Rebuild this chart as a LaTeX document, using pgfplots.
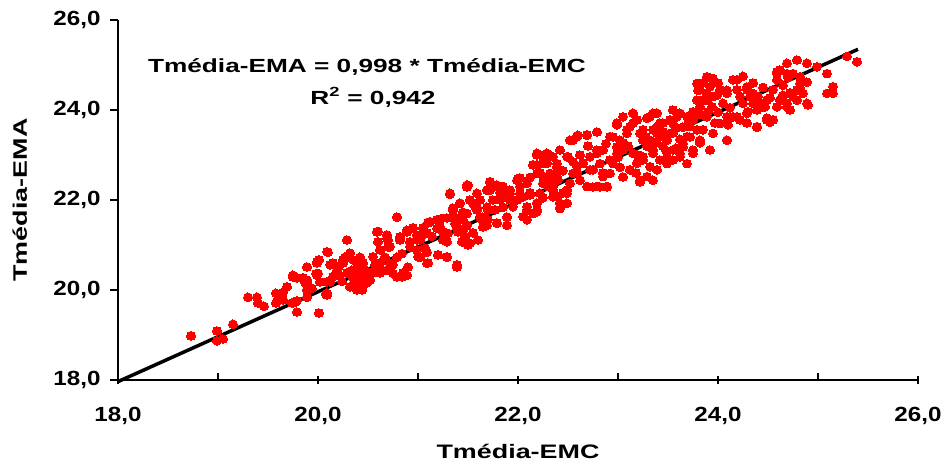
\documentclass[border=0pt]{standalone}
\usepackage{pgfplots}
\pgfplotsset{compat=1.18}
\usepackage{fontspec}
\setmainfont{Liberation Sans}
\newfontfamily\ticfont[FakeStretch=1.18]{Liberation Sans}
\newfontfamily\labfont[FakeStretch=1.38]{Liberation Sans}
\definecolor{ptred}{RGB}{255,0,0}
\begin{document}
\begin{tikzpicture}
\begin{axis}[
  scale only axis, width=800bp, height=360bp,
  xmin=18, xmax=26, ymin=18, ymax=26,
  xtick={18,20,22,24,26}, ytick={18,20,22,24,26},
  minor xtick={19,21,23,25},
  axis x line=bottom, axis y line=left,
  axis line style={-, line width=1.6bp, black},
  tick align=outside,
  major tick length=8bp, minor tick length=7bp,
  every tick/.style={black, line width=1.4bp},
  major x tick style={yshift=4bp},
  minor x tick style={yshift=7bp},
  /pgf/number format/fixed, /pgf/number format/fixed zerofill,
  /pgf/number format/precision=1, /pgf/number format/use comma,
  /pgf/number format/assume math mode=true,
  ticklabel style={font=\ticfont\bfseries\fontsize{20.5bp}{24bp}\selectfont},
  xticklabel style={yshift=-16bp},
  yticklabel style={xshift=-6bp},
  xlabel={Tmédia-EMC}, ylabel={Tmédia-EMA},
  label style={font=\labfont\bfseries\fontsize{19.5bp}{23bp}\selectfont},
  xlabel style={at={(axis description cs:0.5,-0.2194)}, anchor=base},
  ylabel style={at={(axis description cs:-0.1138,0.5)}, anchor=base},
  clip=false,
]
\coordinate (O) at (rel axis cs:0,0);
\addplot[only marks, mark=*, mark size=4.3bp, color=ptred, mark options={fill=ptred, draw=ptred, line width=0pt, xscale=1.05}] coordinates {
(18.73,18.98) (18.99,19.09) (18.99,18.87) (19.05,18.91) (19.15,19.24)
(19.30,19.84) (19.39,19.84) (19.40,19.71) (19.46,19.64)
(19.58,19.93) (19.65,19.95) (19.58,19.71) (19.60,19.80)
(19.74,19.71) (19.79,19.76) (19.79,19.51) (19.89,19.84) (19.92,20.04) (19.87,20.16)
(20.01,19.49) (20.08,19.91)
(19.75,20.33) (19.79,20.27) (19.89,20.22) (19.89,20.51) (19.90,20.11) (19.94,20.04)
(19.77,19.73) (19.99,20.60) (20.01,20.67) (19.98,20.36) (20.02,20.18) (20.09,20.18) (20.10,20.84) (20.09,19.93)
(20.15,20.60) (20.19,20.44) (20.20,20.33) (20.25,20.60) (20.29,20.38) (20.27,20.73) (20.32,20.82)
(20.35,20.67) (20.39,20.49) (20.42,20.73) (20.45,20.60) (20.47,20.44) (20.50,20.29) (20.35,20.27)
(20.37,20.11) (20.44,20.04) (20.49,20.16) (20.54,20.38) (20.29,21.11)
(20.59,21.29) (20.60,21.07) (20.62,20.89) (20.69,21.22) (20.70,21.11) (20.67,20.73) (20.72,20.96)
(20.62,20.60) (20.69,20.44) (20.75,20.56) (20.79,20.73) (20.82,21.18) (20.84,20.29) (20.89,20.33)
(20.90,20.51) (20.79,21.62)
(20.89,21.29) (20.95,21.38) (20.99,21.22) (20.92,21.07) (21.02,21.11) (21.05,21.38) (21.09,21.27)
(21.10,21.49) (20.99,20.89) (21.02,20.73) (21.09,20.84) (21.10,20.60) (21.19,21.56) (21.22,21.40)
(21.25,21.29) (21.29,21.60) (21.29,21.07) (21.20,20.78) (21.29,20.73) (21.37,21.60) (21.35,21.82)
(21.39,21.56) (21.40,21.29) (21.45,21.73) (21.49,21.44) (21.47,21.18) (21.50,21.00) (21.55,21.27)
(21.55,21.93) (21.59,21.78) (21.60,21.11) (21.62,22.00) (21.65,21.62) (21.69,21.84) (21.70,21.56)
(21.72,22.22) (21.77,21.78) (21.79,21.49) (21.82,22.00) (21.89,21.62) (21.90,22.07) (21.49,22.33)
(21.32,22.13) (21.39,20.51) (21.72,22.40) (21.79,22.33) (21.89,22.22) (21.69,21.44)
(19.69,20.07) (19.75,20.29) (19.85,20.27) (19.89,20.00) (19.65,19.78) (19.75,19.71) (19.99,20.33)
(20.09,19.89) (20.12,20.18) (20.32,20.07) (20.39,20.00) (20.44,20.22) (20.52,20.38) (20.62,20.60)
(20.79,20.29) (20.85,20.38) (20.62,20.38)
(21.35,21.78) (21.42,21.93) (21.49,22.29) (21.52,22.00) (21.45,21.56) (21.39,21.40) (21.59,21.84)
(21.62,21.62) (21.65,21.40) (21.69,22.22) (21.72,22.40) (21.75,22.00) (21.82,22.16) (21.85,21.84)
(21.79,21.49) (21.89,21.44) (21.92,22.22) (21.99,22.00) (22.02,22.49) (22.09,21.78) (22.09,21.56)
(22.12,22.16) (22.19,23.04) (22.19,22.78) (22.22,22.60) (22.29,23.04) (22.25,22.82) (22.32,22.44)
(22.35,22.22) (22.19,21.93) (22.19,21.78) (22.42,21.84) (22.49,21.93) (22.45,22.16) (22.39,22.73)
(22.50,22.96) (22.55,23.33) (22.60,23.44) (22.69,23.44) (22.79,23.51) (22.59,22.60) (22.65,22.82)
(22.72,22.67) (22.75,22.29) (22.82,22.29) (22.89,22.29) (22.85,22.60) (22.79,23.04) (22.85,23.11)
(22.92,22.89) (22.95,23.40) (22.99,23.18) (23.05,23.27) (23.02,22.73) (23.05,22.51) (23.12,22.67)
(23.19,22.82) (23.25,22.96) (23.15,23.04) (23.09,23.56) (23.15,23.71) (23.25,23.33) (23.32,23.18)
(23.39,23.49) (23.35,22.44) (23.22,22.40) (22.99,23.71) (23.05,23.85) (23.32,23.85) (23.42,23.71)
(21.85,22.30) (21.89,22.15) (21.92,22.00) (21.99,22.44) (22.02,22.30) (22.05,22.07) (22.09,21.85)
(22.15,21.70) (22.19,21.93) (22.22,22.15) (22.25,22.37) (22.19,22.59) (22.15,22.78) (22.22,23.00)
(22.29,22.82) (22.32,22.59) (22.35,22.30) (22.39,22.07) (22.42,21.93) (22.49,22.15) (22.52,22.37)
(22.55,22.59) (22.59,22.74) (22.35,22.96) (22.42,23.11) (22.52,23.33) (22.59,23.41) (22.69,23.45)
(22.49,22.96) (22.62,22.44) (22.69,22.30) (22.65,22.81) (22.72,22.96) (22.79,23.11) (22.75,22.67)
(22.82,22.81) (22.85,22.52) (22.79,22.30) (22.89,22.30) (22.92,22.59) (22.95,22.81) (22.99,23.04)
(22.92,23.41) (22.99,23.67) (23.02,23.33) (23.05,23.11) (23.09,23.48) (23.12,23.63) (23.15,23.93)
(23.19,23.78) (23.22,23.48) (23.25,23.33) (23.29,23.19) (23.35,23.04) (23.32,22.74) (23.22,22.44)
(23.29,22.52) (23.39,22.67) (23.42,22.89) (23.45,23.19) (23.49,23.33) (23.52,23.48) (23.55,23.70)
(23.59,23.85) (23.39,23.93) (23.35,23.56) (23.42,23.70) (23.49,22.81) (23.55,22.89) (23.62,23.04)
(23.65,23.26) (23.69,23.41) (23.72,23.63) (23.75,23.78) (23.69,22.81) (23.75,23.11) (23.82,23.33)
(23.85,23.56) (23.89,23.85) (23.82,24.07) (23.85,24.22) (23.89,24.37) (23.92,24.52) (23.82,24.45)
(23.79,24.59) (23.89,24.74) (23.95,24.30) (24.02,24.45) (24.09,24.37) (24.15,24.67) (24.19,24.45)
(24.22,24.30) (24.29,24.45) (24.32,24.30) (24.35,24.15) (24.39,24.00) (24.29,23.93) (24.22,23.78)
(24.15,23.85) (24.09,23.85) (24.09,23.33) (23.92,23.11) (23.95,23.48) (24.02,23.70) (24.39,23.63)
(24.45,24.07) (24.49,23.78) (24.55,23.78) (24.59,24.07) (24.62,24.22) (24.65,24.30) (24.69,24.15)
(24.72,24.00) (24.75,24.30) (24.79,24.45) (24.82,24.59) (24.85,24.37) (24.89,24.15) (24.82,24.74)
(24.75,24.81) (24.69,24.81) (24.62,24.89) (24.59,24.81) (24.69,25.04) (24.79,25.11) (24.89,25.04)
(24.99,24.96) (25.09,24.81) (25.15,24.52) (25.15,24.37) (25.09,24.37) (25.29,25.19) (25.39,25.07)
(24.49,24.22) (24.42,24.15) (24.35,24.37)
(24.59,24.85) (24.59,24.67) (24.70,24.73) (24.89,24.62) (24.82,24.49) (24.72,24.38) (24.65,24.33)
(24.79,24.22) (24.90,24.11) (24.69,24.07) (24.59,24.07) (24.52,24.27) (24.47,24.07) (24.49,23.82)
(24.52,23.73) (24.39,23.62) (24.29,23.71) (24.30,23.96) (24.19,23.85) (24.10,23.67) (24.09,23.33)
(24.19,24.67) (24.29,24.51) (24.09,24.44) (24.02,24.44) (23.99,24.33) (23.89,24.73) (23.85,24.60)
(23.80,24.44) (23.79,24.22) (23.89,24.22) (23.94,24.07) (23.90,23.96) (23.85,23.89) (23.75,23.96)
(23.69,23.85) (23.62,23.93) (23.55,24.00) (23.52,23.78) (23.45,23.71) (23.35,23.93) (23.29,23.82)
(23.39,23.62) (23.25,23.56) (23.32,23.33) (23.42,23.40) (23.55,23.49) (23.65,23.62) (23.72,23.40)
(23.79,23.56) (23.82,23.27) (23.65,23.18) (23.55,23.11) (23.49,22.96) (23.35,23.11) (23.25,22.89)
(23.62,22.96) (23.75,23.04) (23.92,23.11) (24.09,23.85) (23.97,23.71)
(19.99,20.63) (20.00,20.37) (20.09,20.85) (20.12,20.56) (20.15,20.30) (20.20,20.48) (20.24,20.19)
(20.25,20.67) (20.32,20.81) (20.34,20.44) (20.37,20.15) (20.39,20.67) (20.42,20.30) (20.44,20.00)
(20.45,20.52) (20.50,20.37) (20.52,20.22) (20.55,20.74) (20.57,20.56) (20.60,21.30) (20.62,20.89)
(20.64,20.44) (20.69,21.15) (20.70,20.96) (20.72,20.59) (20.75,20.37) (20.82,21.11) (20.84,20.81)
(20.87,20.33) (20.89,21.33) (20.92,20.96) (20.95,21.37) (20.99,21.11) (21.00,20.74) (21.04,21.22)
(21.07,20.93) (21.09,20.59) (21.12,21.52) (21.14,21.19) (21.19,21.37) (21.20,20.78) (21.24,21.59)
(21.25,21.11) (21.29,20.74) (21.30,21.26) (21.32,22.15) (21.35,21.78) (21.37,21.48) (21.39,20.56)
(21.42,21.93) (21.44,21.07) (21.45,21.33) (21.49,21.70) (21.50,22.33) (21.52,21.04) (21.57,21.85)
(21.59,22.15) (21.60,21.11) (21.64,21.56) (21.69,22.22) (21.70,21.78) (21.72,22.41) (21.79,22.30)
(21.79,21.48) (21.82,22.00) (21.89,21.44) (21.92,22.15) (21.95,21.85) (22.00,22.48) (22.02,22.15)
(22.05,21.63) (22.09,22.37) (22.09,21.56) (22.12,22.11) (22.19,23.00) (22.19,22.78) (22.19,21.74)
(22.25,22.52) (22.30,23.00) (22.32,22.30) (22.35,22.07) (22.39,22.81) (22.39,22.59) (22.42,21.81)
(22.49,22.96) (22.49,22.22)
(23.00,22.95) (23.10,23.20) (23.20,23.00) (23.28,23.40) (23.38,23.28) (23.45,23.52) (23.58,23.60)
(23.62,23.35) (23.70,23.70) (23.78,23.90) (22.88,23.25) (22.70,23.20) (22.62,23.00) (22.55,22.85)
(22.45,22.65) (22.40,22.45) (22.30,22.30) (22.25,22.05) (22.12,22.50) (23.18,22.60) (23.48,23.10)
(23.58,23.15) (24.00,23.95) (24.05,24.15) (24.12,24.05) (24.25,24.15) (24.40,24.30) (24.55,24.45)
(24.65,24.55) (24.45,24.50) (24.35,24.60) (24.00,24.60) (23.95,24.70) (24.25,24.75)
};
\addplot[black, line width=3.5bp] coordinates {(18,17.964) (25.4,25.349)};
\node[anchor=base, font=\labfont\bfseries\fontsize{19bp}{23bp}\selectfont] at (axis cs:20.49,24.83) {Tmédia-EMA = 0,998 * Tmédia-EMC};
\node[anchor=base, font=\labfont\bfseries\fontsize{19bp}{23bp}\selectfont] at (axis cs:20.55,24.13) {R\textsuperscript{2} = 0,942};
\end{axis}
\pgfresetboundingbox
\path (O) ++(-118bp,-82bp) rectangle ++(948bp,462bp);
\end{tikzpicture}
\end{document}
